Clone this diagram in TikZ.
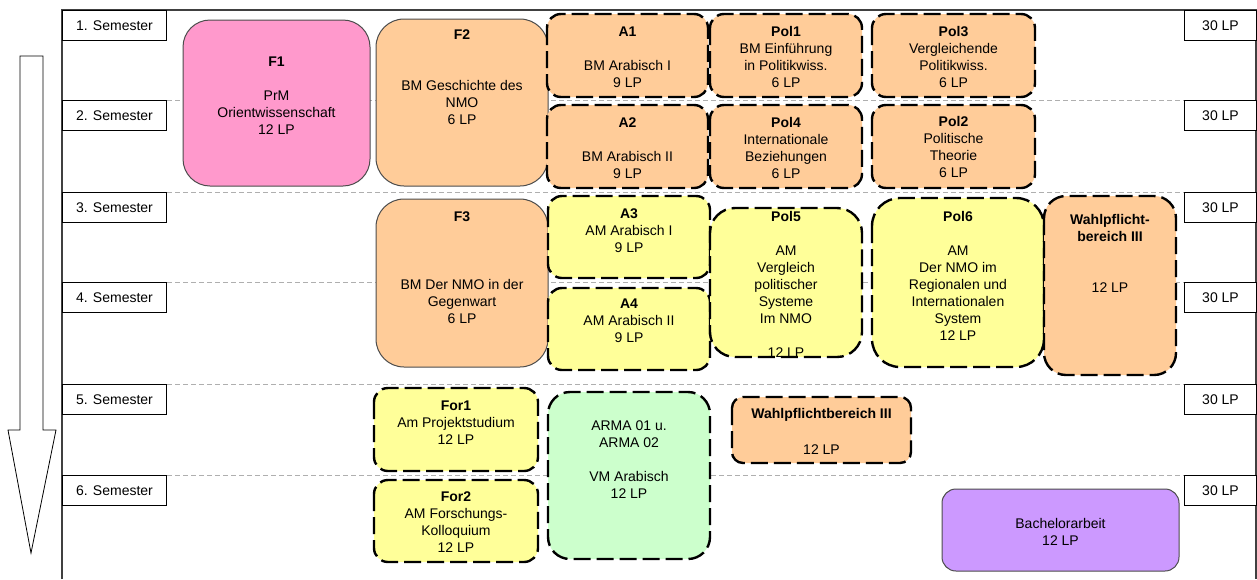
\documentclass[tikz,border=0pt]{standalone}
\usepackage{fontspec}
\setmainfont{Liberation Sans}
\usepackage{tikz}
\definecolor{modPink}{RGB}{255,153,204}
\definecolor{modPeach}{RGB}{255,204,153}
\definecolor{modYellow}{RGB}{255,255,153}
\definecolor{modGreen}{RGB}{204,255,204}
\definecolor{modLilac}{RGB}{204,153,255}
\definecolor{sepGray}{RGB}{175,175,175}

\begin{document}
\begin{tikzpicture}[x=1pt, y=-1pt,
    every node/.style={font=\fontsize{14pt}{17pt}\selectfont},
    rowbox/.style={draw, fill=white, line width=1pt, inner sep=0pt, minimum height=30pt, anchor=north west},
    sepline/.style={sepGray, line width=1pt, dash pattern=on 5pt off 3pt},
    solidmod/.style={draw=black!70, line width=1pt},
    dashmod/.style={draw=black, line width=2.4pt, dash pattern=on 17pt off 6pt},
    modtxt/.style={align=center, inner sep=0pt}]
    \useasboundingbox (0,0) rectangle (1257,579);

    % Frame and arrow
    \draw[black!75, line width=1.5pt] (62,579) -- (62,10) -- (1256,10) -- (1256,579);
    \draw[line width=0.8pt] (20,56) -- (43,56) -- (43,430) -- (56,430) -- (31,553) -- (8,430) -- (20,430) -- cycle;

    % Semester rows
    \node[rowbox, minimum width=104pt] (sem1) at (62,10) {1. Semester};
    \node[rowbox, minimum width=104pt] (sem2) at (62,100) {2. Semester};
    \node[rowbox, minimum width=104pt] (sem3) at (62,192) {3. Semester};
    \node[rowbox, minimum width=104pt] (sem4) at (62,282) {4. Semester};
    \node[rowbox, minimum width=104pt] (sem5) at (62,384) {5. Semester};
    \node[rowbox, minimum width=104pt] (sem6) at (62,475) {6. Semester};
    \node[rowbox, minimum width=72pt] (lp1) at (1184,10) {30 LP};
    \node[rowbox, minimum width=72pt] (lp2) at (1184,100) {30 LP};
    \node[rowbox, minimum width=72pt] (lp3) at (1184,192) {30 LP};
    \node[rowbox, minimum width=72pt] (lp4) at (1184,282) {30 LP};
    \node[rowbox, minimum width=72pt] (lp5) at (1184,384) {30 LP};
    \node[rowbox, minimum width=72pt] (lp6) at (1184,475) {30 LP};
    \draw[sepline] (sem2.north east) -- (lp2.north west);
    \draw[sepline] (sem3.north east) -- (lp3.north west);
    \draw[sepline] (sem4.north east) -- (lp4.north west);
    \draw[sepline] (sem5.north east) -- (lp5.north west);
    \draw[sepline] (sem6.north east) -- (lp6.north west);

    % Semester 1 and 2
    \draw[solidmod, fill=modPink, rounded corners=27pt] (183,20) rectangle (370,186);
    \node[modtxt] (F1) at (276.5,96) {\textbf{F1}\\[17pt] PrM\\ Orientwissenschaft\\ 12 LP};
    \draw[solidmod, fill=modPeach, rounded corners=28pt] (376,19) rectangle (548,186);
    \node[modtxt] (F2) at (462,77.5) {\textbf{F2}\\[34pt] BM Geschichte des\\ NMO\\ 6 LP};
    \draw[dashmod, fill=modPeach, rounded corners=14pt] (547,14) rectangle (708,97);
    \node[modtxt] (A1) at (627.5,57) {\textbf{A1}\\[17pt] BM Arabisch I\\ 9 LP};
    \draw[dashmod, fill=modPeach, rounded corners=14pt] (547,105) rectangle (708,188);
    \node[modtxt] (A2) at (627.5,148) {\textbf{A2}\\[17pt] BM Arabisch II\\ 9 LP};
    \draw[dashmod, fill=modPeach, rounded corners=14pt] (710,14) rectangle (862,97);
    \node[modtxt] (Pol1) at (786,57) {\textbf{Pol1}\\ BM Einführung\\ in Politikwiss.\\ 6 LP};
    \draw[dashmod, fill=modPeach, rounded corners=14pt] (710,105) rectangle (862,188);
    \node[modtxt] (Pol4) at (786,147.5) {\textbf{Pol4}\\ Internationale\\ Beziehungen\\ 6 LP};
    \draw[dashmod, fill=modPeach, rounded corners=14pt] (872,14) rectangle (1035,97);
    \node[modtxt] (Pol3) at (953.5,57) {\textbf{Pol3}\\ Vergleichende\\ Politikwiss.\\ 6 LP};
    \draw[dashmod, fill=modPeach, rounded corners=14pt] (872,105) rectangle (1035,188);
    \node[modtxt] (Pol2) at (953.5,147) {\textbf{Pol2}\\ Politische\\ Theorie\\ 6 LP};

    % Semester 3 and 4
    \draw[solidmod, fill=modPeach, rounded corners=28pt] (376,199) rectangle (548,367);
    \node[modtxt] (F3) at (462,267.5) {\textbf{F3}\\[51pt] BM Der NMO in der\\ Gegenwart\\ 6 LP};
    \draw[dashmod, fill=modYellow, rounded corners=14pt] (548,196) rectangle (710,278);
    \node[modtxt] (A3) at (629,231) {\textbf{A3}\\ AM Arabisch I\\ 9 LP};
    \draw[dashmod, fill=modYellow, rounded corners=14pt] (548,288) rectangle (710,370);
    \node[modtxt] (A4) at (629,321) {\textbf{A4}\\ AM Arabisch II\\ 9 LP};
    \draw[dashmod, fill=modYellow, rounded corners=25pt] (710,208) rectangle (862,357);
    \node[modtxt] (Pol5) at (786,284.5) {\textbf{Pol5}\\[17pt] AM\\ Vergleich\\ politischer\\ Systeme\\ Im NMO\\[17pt] 12 LP};
    \draw[dashmod, fill=modYellow, rounded corners=28pt] (872,198) rectangle (1044,367);
    \node[modtxt] (Pol6) at (958,275.5) {\textbf{Pol6}\\[17pt] AM\\ Der NMO im\\ Regionalen und\\ Internationalen\\ System\\ 12 LP};
    \draw[dashmod, fill=modPeach, rounded corners=22pt] (1044,196) rectangle (1176,375);
    \node[modtxt] (WP1) at (1110,253) {\textbf{Wahlpflicht-}\\ \textbf{bereich III}\\[34pt] 12 LP};

    % Semester 5 and 6
    \draw[dashmod, fill=modYellow, rounded corners=14pt] (374,388) rectangle (538,471);
    \node[modtxt] (For1) at (456,423) {\textbf{For1}\\ Am Projektstudium\\ 12 LP};
    \draw[dashmod, fill=modYellow, rounded corners=14pt] (374,480) rectangle (538,562);
    \node[modtxt] (For2) at (456,522.5) {\textbf{For2}\\ AM Forschungs-\\ Kolloquium\\ 12 LP};
    \draw[dashmod, fill=modGreen, rounded corners=22pt] (548,392) rectangle (710,559);
    \node[modtxt] (ARMA) at (629,460) {ARMA 01 u.\\ ARMA 02\\[17pt] VM Arabisch\\ 12 LP};
    \draw[dashmod, fill=modPeach, rounded corners=11pt] (732,397) rectangle (911,463);
    \node[modtxt] (WP2) at (821.5,431) {\textbf{Wahlpflichtbereich III}\\[19pt] 12 LP};
    \draw[solidmod, fill=modLilac, rounded corners=14pt] (942,489) rectangle (1179,571);
    \node[modtxt] (BA) at (1060.5,531.5) {Bachelorarbeit\\ 12 LP};
\end{tikzpicture}
\end{document}
